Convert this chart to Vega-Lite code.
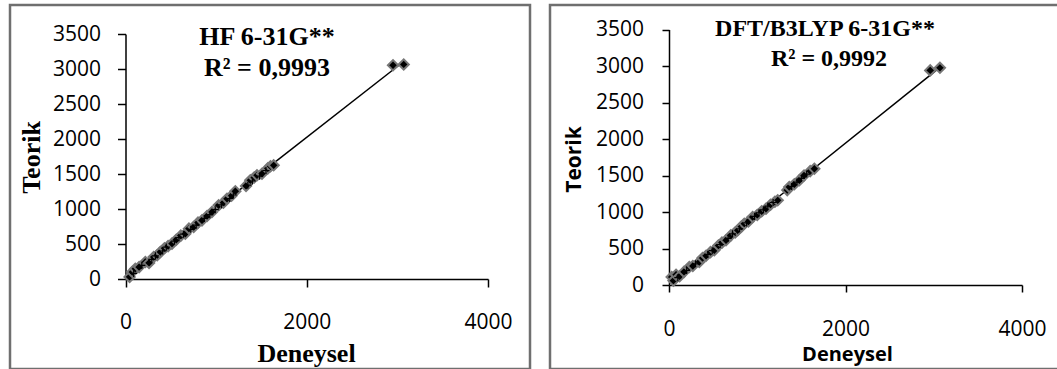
{
  "$schema": "https://vega.github.io/schema/vega-lite/v6.json",
  "background": "white",
  "padding": {"left": 8, "top": 3, "right": 0, "bottom": 0},
  "spacing": 16,
  "config": {
    "view": {"stroke": "#6f6f6f", "strokeWidth": 2.5},
    "axis": {"grid": false, "format": "d", "domainColor": "black", "tickColor": "black", "domainWidth": 1.5, "tickWidth": 1.5, "labelColor": "black", "titleColor": "black", "labelFont": "Open Sans", "labelFontSize": 21, "labelOverlap": false, "labelFlush": false}
  },
  "datasets": {
    "hf": [
      {"deneysel": 45, "teorik": 30}, {"deneysel": 75, "teorik": 100}, {"deneysel": 108, "teorik": 147}, {"deneysel": 150, "teorik": 170},
      {"deneysel": 219, "teorik": 243}, {"deneysel": 260, "teorik": 230}, {"deneysel": 311, "teorik": 314}, {"deneysel": 350, "teorik": 340},
      {"deneysel": 384, "teorik": 386}, {"deneysel": 430, "teorik": 440}, {"deneysel": 470, "teorik": 470}, {"deneysel": 513, "teorik": 505},
      {"deneysel": 560, "teorik": 560}, {"deneysel": 610, "teorik": 620}, {"deneysel": 660, "teorik": 647}, {"deneysel": 700, "teorik": 720},
      {"deneysel": 752, "teorik": 743}, {"deneysel": 800, "teorik": 805}, {"deneysel": 844, "teorik": 838}, {"deneysel": 900, "teorik": 900},
      {"deneysel": 954, "teorik": 957}, {"deneysel": 1028, "teorik": 1053}, {"deneysel": 1080, "teorik": 1090}, {"deneysel": 1120, "teorik": 1147},
      {"deneysel": 1170, "teorik": 1190}, {"deneysel": 1212, "teorik": 1253}, {"deneysel": 1330, "teorik": 1330}, {"deneysel": 1377, "teorik": 1410},
      {"deneysel": 1420, "teorik": 1450}, {"deneysel": 1451, "teorik": 1481}, {"deneysel": 1506, "teorik": 1504}, {"deneysel": 1570, "teorik": 1580},
      {"deneysel": 1600, "teorik": 1610}, {"deneysel": 1635, "teorik": 1624}, {"deneysel": 2952, "teorik": 3053}, {"deneysel": 3070, "teorik": 3065}
    ],
    "hfPlus": [
      {"deneysel": 90, "teorik": 80}, {"deneysel": 180, "teorik": 195}, {"deneysel": 290, "teorik": 280}, {"deneysel": 330, "teorik": 330},
      {"deneysel": 410, "teorik": 400}, {"deneysel": 450, "teorik": 455}, {"deneysel": 540, "teorik": 540}, {"deneysel": 590, "teorik": 590},
      {"deneysel": 640, "teorik": 640}, {"deneysel": 720, "teorik": 710}, {"deneysel": 780, "teorik": 770}, {"deneysel": 870, "teorik": 865},
      {"deneysel": 930, "teorik": 920}, {"deneysel": 990, "teorik": 990}, {"deneysel": 1060, "teorik": 1060}, {"deneysel": 1150, "teorik": 1150},
      {"deneysel": 1190, "teorik": 1200}, {"deneysel": 1350, "teorik": 1340}, {"deneysel": 1400, "teorik": 1400}, {"deneysel": 1480, "teorik": 1470},
      {"deneysel": 1550, "teorik": 1550}
    ],
    "dft": [
      {"deneysel": 30, "teorik": 110}, {"deneysel": 50, "teorik": 60}, {"deneysel": 80, "teorik": 140}, {"deneysel": 120, "teorik": 120},
      {"deneysel": 170, "teorik": 180}, {"deneysel": 230, "teorik": 247}, {"deneysel": 270, "teorik": 260}, {"deneysel": 343, "teorik": 315},
      {"deneysel": 380, "teorik": 370}, {"deneysel": 420, "teorik": 400}, {"deneysel": 470, "teorik": 450}, {"deneysel": 513, "teorik": 475},
      {"deneysel": 560, "teorik": 540}, {"deneysel": 600, "teorik": 580}, {"deneysel": 646, "teorik": 612}, {"deneysel": 700, "teorik": 680},
      {"deneysel": 750, "teorik": 720}, {"deneysel": 778, "teorik": 749}, {"deneysel": 820, "teorik": 800}, {"deneysel": 853, "teorik": 840},
      {"deneysel": 900, "teorik": 870}, {"deneysel": 948, "teorik": 932}, {"deneysel": 1000, "teorik": 960}, {"deneysel": 1050, "teorik": 1010},
      {"deneysel": 1099, "teorik": 1045}, {"deneysel": 1150, "teorik": 1100}, {"deneysel": 1200, "teorik": 1140}, {"deneysel": 1232, "teorik": 1160},
      {"deneysel": 1340, "teorik": 1300}, {"deneysel": 1363, "teorik": 1342}, {"deneysel": 1420, "teorik": 1380}, {"deneysel": 1477, "teorik": 1434},
      {"deneysel": 1530, "teorik": 1500}, {"deneysel": 1600, "teorik": 1560}, {"deneysel": 1647, "teorik": 1593}, {"deneysel": 2960, "teorik": 2940},
      {"deneysel": 3070, "teorik": 2975}
    ],
    "dftPlus": [
      {"deneysel": 100, "teorik": 100}, {"deneysel": 200, "teorik": 200}, {"deneysel": 300, "teorik": 290}, {"deneysel": 440, "teorik": 420},
      {"deneysel": 490, "teorik": 470}, {"deneysel": 580, "teorik": 555}, {"deneysel": 670, "teorik": 640}, {"deneysel": 720, "teorik": 700},
      {"deneysel": 800, "teorik": 770}, {"deneysel": 880, "teorik": 850}, {"deneysel": 970, "teorik": 940}, {"deneysel": 1020, "teorik": 990},
      {"deneysel": 1070, "teorik": 1030}, {"deneysel": 1120, "teorik": 1080}, {"deneysel": 1180, "teorik": 1130}, {"deneysel": 1390, "teorik": 1350},
      {"deneysel": 1450, "teorik": 1410}, {"deneysel": 1500, "teorik": 1460}, {"deneysel": 1560, "teorik": 1520}
    ],
    "one": [{}]
  },
  "hconcat": [
    {
      "width": 520,
      "height": 364,
      "layer": [
        {
          "data": {"name": "hf"},
          "transform": [{"regression": "teorik", "on": "deneysel"}],
          "mark": {"type": "line", "color": "black", "strokeWidth": 1.5, "clip": false},
          "encoding": {
            "x": {"field": "deneysel", "type": "quantitative",
              "scale": {"domain": [0, 4000], "range": [115.5, 478], "nice": false, "zero": false},
              "axis": {"values": [0, 2000, 4000], "offset": -90, "tickSize": 8, "labelPadding": 24,
                "title": "Deneysel", "titleFont": "Liberation Serif", "titleFontSize": 26, "titleFontWeight": "bold",
                "titleX": 296, "titleY": 82, "titleBaseline": "alphabetic", "titleAlign": "center", "titleAngle": 0}},
            "y": {"field": "teorik", "type": "quantitative",
              "scale": {"domain": [0, 3500], "range": [274, 29], "nice": false, "zero": false},
              "axis": {"values": [0, 500, 1000, 1500, 2000, 2500, 3000, 3500], "offset": -115.5, "tickSize": 8, "labelPadding": 17,
                "title": "Teorik", "titleFont": "Liberation Serif", "titleFontSize": 26, "titleFontWeight": "bold",
                "titleX": -86, "titleY": 152, "titleBaseline": "alphabetic", "titleAlign": "center", "titleAngle": 270}}
          }
        },
        {
          "data": {"name": "hf"},
          "mark": {"type": "point", "shape": "diamond", "filled": true, "fill": "black", "stroke": "#777777", "strokeWidth": 2, "size": 105, "opacity": 1, "fillOpacity": 1, "clip": false},
          "encoding": {
            "x": {"field": "deneysel", "type": "quantitative"},
            "y": {"field": "teorik", "type": "quantitative"}
          }
        },
        {
          "data": {"name": "hfPlus"},
          "mark": {"type": "point", "shape": "M-1,0L1,0M0,-1L0,1", "filled": false, "stroke": "black", "strokeWidth": 1.2, "size": 50, "opacity": 1},
          "encoding": {
            "x": {"field": "deneysel", "type": "quantitative"},
            "y": {"field": "teorik", "type": "quantitative"}
          }
        },
        {
          "data": {"name": "one"},
          "mark": {"type": "text", "text": "HF 6-31G**", "font": "Liberation Serif", "fontSize": 26, "fontWeight": "bold", "color": "black", "align": "center", "baseline": "alphabetic"},
          "encoding": {"x": {"datum": 1561, "type": "quantitative"}, "y": {"datum": 3343, "type": "quantitative"}}
        },
        {
          "data": {"name": "one"},
          "mark": {"type": "text", "text": "R² = 0,9993", "font": "Liberation Serif", "fontSize": 26, "fontWeight": "bold", "color": "black", "align": "center", "baseline": "alphabetic"},
          "encoding": {"x": {"datum": 1561, "type": "quantitative"}, "y": {"datum": 2900, "type": "quantitative"}}
        }
      ]
    },
    {
      "width": 510,
      "height": 364,
      "layer": [
        {
          "data": {"name": "dft"},
          "transform": [{"regression": "teorik", "on": "deneysel"}],
          "mark": {"type": "line", "color": "black", "strokeWidth": 1.5, "clip": false},
          "encoding": {
            "x": {"field": "deneysel", "type": "quantitative",
              "scale": {"domain": [0, 4000], "range": [119, 472], "nice": false, "zero": false},
              "axis": {"values": [0, 2000, 4000], "offset": -84, "tickSize": 7, "labelPadding": 26.5,
                "title": "Deneysel", "titleFont": "Open Sans", "titleFontSize": 20, "titleFontWeight": "bold",
                "titleX": 297, "titleY": 75, "titleBaseline": "alphabetic", "titleAlign": "center", "titleAngle": 0}},
            "y": {"field": "teorik", "type": "quantitative",
              "scale": {"domain": [0, 3500], "range": [280, 24.5], "nice": false, "zero": false},
              "axis": {"values": [0, 500, 1000, 1500, 2000, 2500, 3000, 3500], "offset": -119, "tickSize": 7, "labelPadding": 18.5,
                "title": "Teorik", "titleFont": "Open Sans", "titleFontSize": 21, "titleFontWeight": "bold",
                "titleX": -88.5, "titleY": 154, "titleBaseline": "alphabetic", "titleAlign": "center", "titleAngle": 270}}
          }
        },
        {
          "data": {"name": "dft"},
          "mark": {"type": "point", "shape": "diamond", "filled": true, "fill": "black", "stroke": "#777777", "strokeWidth": 2, "size": 105, "opacity": 1, "fillOpacity": 1, "clip": false},
          "encoding": {
            "x": {"field": "deneysel", "type": "quantitative"},
            "y": {"field": "teorik", "type": "quantitative"}
          }
        },
        {
          "data": {"name": "dftPlus"},
          "mark": {"type": "point", "shape": "M-1,0L1,0M0,-1L0,1", "filled": false, "stroke": "black", "strokeWidth": 1.2, "size": 50, "opacity": 1},
          "encoding": {
            "x": {"field": "deneysel", "type": "quantitative"},
            "y": {"field": "teorik", "type": "quantitative"}
          }
        },
        {
          "data": {"name": "one"},
          "mark": {"type": "text", "text": "DFT/B3LYP 6-31G**", "font": "Liberation Serif", "fontSize": 24, "fontWeight": "bold", "color": "black", "align": "center", "baseline": "alphabetic"},
          "encoding": {"x": {"datum": 1768, "type": "quantitative"}, "y": {"datum": 3411, "type": "quantitative"}}
        },
        {
          "data": {"name": "one"},
          "mark": {"type": "text", "text": "R² = 0,9992", "font": "Liberation Serif", "fontSize": 24, "fontWeight": "bold", "color": "black", "align": "center", "baseline": "alphabetic"},
          "encoding": {"x": {"datum": 1813, "type": "quantitative"}, "y": {"datum": 3000, "type": "quantitative"}}
        }
      ]
    }
  ]
}
